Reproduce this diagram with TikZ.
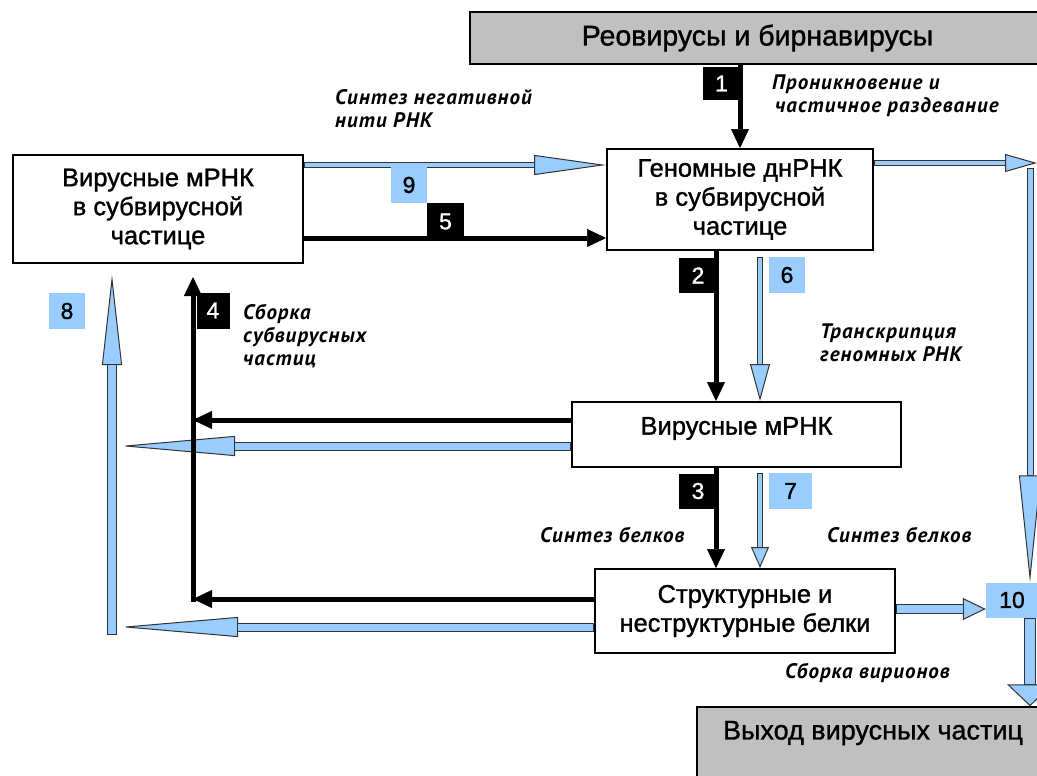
\documentclass[tikz,border=0pt]{standalone}
\usepackage{fontspec}
\setmainfont{Liberation Sans}[FakeBold=1.2]
\newfontfamily\boxfont{Liberation Sans}[FakeBold=1.2]
\newfontfamily\lblfont{PT Sans}[LetterSpace=5]
\usetikzlibrary{arrows.meta}
\definecolor{bfill}{HTML}{99CCFF}
\definecolor{bdark}{HTML}{333333}
\definecolor{boxgray}{HTML}{C0C0C0}
\begin{document}
\begin{tikzpicture}[x=1pt,y=-1pt,
 box/.style={draw=black, line width=2pt, fill=white, align=center, inner sep=0pt, font=\boxfont\fontsize{25.5}{29}\selectfont},
 graybox/.style={draw=black, line width=1.5pt, fill=boxgray, inner sep=0pt},
 bigtext/.style={inner sep=0pt, font=\boxfont\fontsize{27}{30}\selectfont},
 numblack/.style={fill=black, text=white, inner sep=0pt, font=\boxfont\fontsize{23}{23}\selectfont},
 numblue/.style={fill=bfill, text=black, inner sep=0pt, font=\boxfont\fontsize{23}{23}\selectfont},
 note/.style={anchor=west, align=left, inner sep=0pt, font=\lblfont\bfseries\itshape\fontsize{21}{23}\selectfont},
 barr/.style n args={3}{draw=bdark, line width=#3+2pt, -{Triangle[length=#1,width=#2,fill=bfill,line width=1pt]},
   postaction={draw=bfill, line width=#3, -, shorten >=#1, shorten <=1pt}},
 karr/.style={draw=black, line width=5pt, -{Triangle[length=19pt,width=18pt,line width=0.5pt]}}
]
\useasboundingbox (0,0) rectangle (1037,776);
\fill[white] (0,0) rectangle (1037,776);
\clip (0,0) rectangle (1037,776);

% boxes
\node[graybox, minimum width=575, minimum height=52, font=\boxfont\fontsize{28.5}{30}\selectfont] (top) at (757.5,38) {Реовирусы и бирнавирусы};
\node[graybox, minimum width=348, minimum height=83] (out) at (871,748.5) {};
\node[bigtext] (outtxt) at (873,733) {Выход вирусных частиц};
\node[box, minimum width=290, minimum height=108] (lb) at (158,209) {Вирусные мРНК\\в субвирусной\\частице};
\node[box, minimum width=266, minimum height=101] (gen) at (740,199.5) {Геномные днРНК\\в субвирусной\\частице};
\node[box, minimum width=329, minimum height=65] (vm) at (736.5,434.5) {\raisebox{6pt}[\height][\depth]{Вирусные мРНК}};
\node[box, minimum width=300, minimum height=84] (st) at (745,611) {Структурные и\\неструктурные белки};
\node[numblue, minimum width=52, minimum height=35] (ten) at (1012,600) {10};

% coordinates
\coordinate (tr) at (1037,163);
\coordinate (rv) at (1030,168);
\coordinate (g6) at (760,257);
\coordinate (c7) at (760,473);
\coordinate (k1) at (193,420);
\coordinate (k2) at (193,599);
\coordinate (k3) at (193,277);
\coordinate (b1) at (120,446);
\coordinate (b2) at (120,627);
\coordinate (b3) at (112,635);
\coordinate (b4) at (112,275);

% blue arrows
\draw[barr={72pt}{20pt}{4pt}] (lb.east |- 0,165) -- (gen.west |- 0,165);
\draw[barr={32pt}{18pt}{4pt}] (gen.east |- tr) -- (tr);
\draw[barr={107pt}{22pt}{5pt}] (rv) -- (ten.north -| rv);
\draw[barr={22pt}{46pt}{10pt}] (ten.south -| rv) -- (out.north -| rv);
\draw[barr={23pt}{22pt}{8pt}] (st.east |- 0,609) -- (ten.west |- 0,609);
\draw[barr={37pt}{20pt}{4pt}] (g6) -- (vm.north -| g6);
\draw[barr={21pt}{18pt}{4pt}] (c7) -- (st.north -| c7);
\draw[barr={115pt}{20pt}{7pt}] (vm.west |- b1) -- (b1);
\draw[barr={118pt}{20pt}{7pt}] (st.west |- b2) -- (b2);
\draw[barr={90pt}{20pt}{8pt}] (b3) -- (b4);

% black arrows
\draw[karr] (top.south -| gen.north) -- (gen.north);
\draw[karr] (lb.east |- 0,238) -- (gen.west |- 0,238);
\draw[karr] (gen.south -| 716,0) -- (vm.north -| 716,0);
\draw[karr] (vm.south -| 716,0) -- (st.north -| 716,0);
\draw[karr] (vm.west |- k1) -- (k1);
\draw[karr] (st.west |- k2) -- (k2);
\draw[karr] ([yshift=-2.5pt]k2) -- (k3);

% number labels
\node[numblack, minimum width=37, minimum height=33] (n1) at (721.5,83.5) {1};
\node[numblack, minimum width=38, minimum height=35] (n2) at (698,275.5) {2};
\node[numblack, minimum width=38, minimum height=35] (n3) at (698,491) {3};
\node[numblack, minimum width=33, minimum height=36] (n4) at (213,310.5) {4};
\node[numblack, minimum width=37, minimum height=37] (n5) at (445.5,221.5) {5};
\node[numblue, minimum width=36, minimum height=36] (n6) at (787,275) {6};
\node[numblue, minimum width=43, minimum height=36] (n7) at (790.5,491) {7};
\node[numblue, minimum width=36, minimum height=36] (n8) at (67,311) {8};
\node[numblue, minimum width=36, minimum height=36] (n9) at (409,185) {9};

% notes
\node[note] (t1) at (772,96) {Проникновение и\\\hspace{3pt}частичное раздевание};
\node[note] (t9) at (335,109) {Синтез негативной\\нити РНК};
\node[note] (t6) at (820,343) {Транскрипция\\геномных РНК};
\node[note] (t4) at (243,336) {Сборка\\субвирусных\\частиц};
\node[note] (t3) at (540,535) {Синтез белков};
\node[note] (t7) at (827,535) {Синтез белков};
\node[note] (t10) at (785,673) {Сборка вирионов};
\end{tikzpicture}
\end{document}
